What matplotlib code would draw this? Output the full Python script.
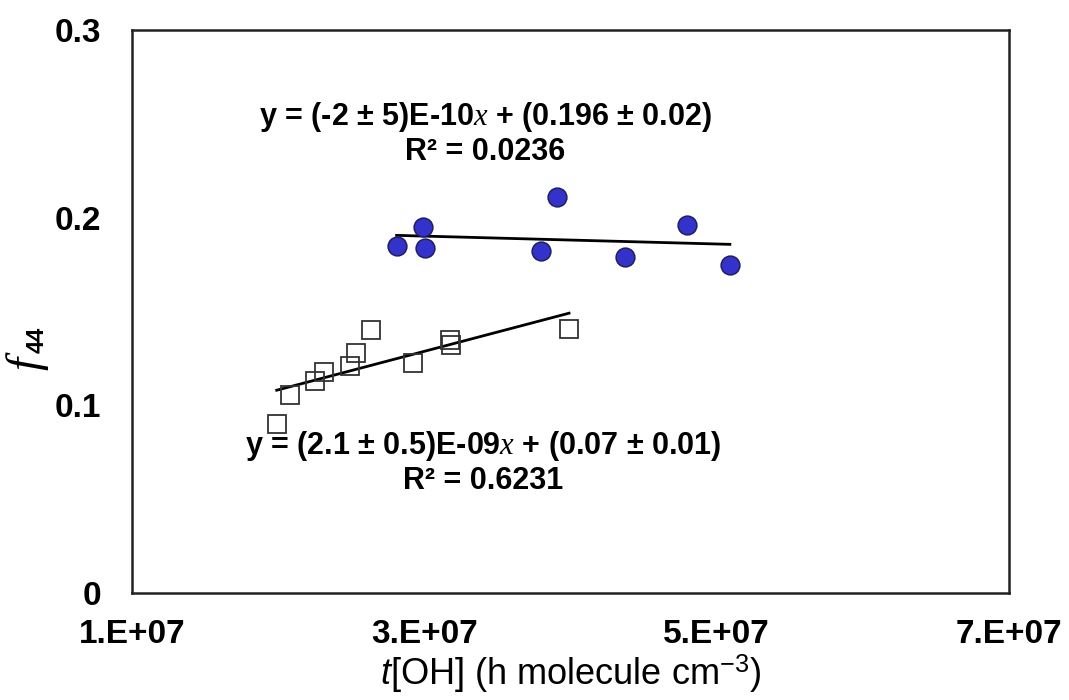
import numpy as np
import matplotlib
matplotlib.use("Agg")
import matplotlib.pyplot as plt
from matplotlib import font_manager

# data (x in molecule cm-3 h, y = f44)
high_x = [28.1e6, 29.9e6, 30.05e6, 38.0e6, 39.1e6, 43.7e6, 48.0e6, 50.9e6]
high_y = [0.185, 0.195, 0.184, 0.182, 0.211, 0.179, 0.196, 0.175]

low_x = [19.9e6, 20.8e6, 22.5e6, 23.1e6, 24.9e6, 25.3e6, 26.35e6, 29.2e6, 31.75e6, 31.85e6, 39.9e6]
low_y = [0.090, 0.1055, 0.113, 0.118, 0.121, 0.128, 0.140, 0.1227, 0.135, 0.132, 0.1405]

x_ticks = [1e7, 3e7, 5e7, 7e7]
x_tick_labels = ["1.E+07", "3.E+07", "5.E+07", "7.E+07"]
y_ticks = [0, 0.1, 0.2, 0.3]
y_tick_labels = ["0", "0.1", "0.2", "0.3"]

high_eq = "y = (-2 ± 5)E-10$x$ + (0.196 ± 0.02)"
high_r2 = "R² = 0.0236"
low_eq = "y = (2.1 ± 0.5)E-09$x$ + (0.07 ± 0.01)"
low_r2 = "R² = 0.6231"

names = {f.name for f in font_manager.fontManager.ttflist}
narrow = "Liberation Sans Narrow" if "Liberation Sans Narrow" in names else "Liberation Sans"

plt.rcParams["font.family"] = ["Liberation Sans", "DejaVu Sans"]
plt.rcParams["mathtext.fontset"] = "custom"
plt.rcParams["mathtext.it"] = "Liberation Serif:italic"
plt.rcParams["mathtext.rm"] = narrow
plt.rcParams["mathtext.sf"] = narrow + ":italic"

fig = plt.figure(figsize=(10.69, 7), dpi=100)
ax = fig.add_axes([0.1235, 0.1529, 0.8204, 0.8043])

# fitted trendlines over each data range
for xs, ys in [(low_x, low_y), (high_x, high_y)]:
    k, b = np.polyfit(xs, ys, 1)
    xx = np.array([min(xs), max(xs)])
    ax.plot(xx, k * xx + b, color="black", lw=2, zorder=2)

ax.plot(low_x, low_y, ls="none", marker="s", ms=13, mfc="none", mec="#333333", mew=1.3, zorder=3)
ax.plot(high_x, high_y, ls="none", marker="o", ms=13.5, mfc="#3333CC", mec="#1F1F5E", mew=1.1, zorder=3)

ax.set_xlim(1e7, 7e7)
ax.set_ylim(0, 0.3)
ax.set_xticks(x_ticks)
ax.set_xticklabels(x_tick_labels, fontfamily=narrow, fontweight="bold", fontsize=24)
ax.set_yticks(y_ticks)
ax.set_yticklabels(y_tick_labels, fontfamily=narrow, fontweight="bold", fontsize=24)
ax.tick_params(axis="both", length=0)
ax.tick_params(axis="x", pad=19)
ax.tick_params(axis="y", pad=22)
for s in ax.spines.values():
    s.set_linewidth(1.8)
    s.set_color("#222222")

ax.set_xlabel(r"$\mathsf{t}$[OH] (h molecule cm$^{-3}$)", fontfamily=narrow, fontsize=26, labelpad=2)
fig.text(27 / 1069, 1 - 363 / 700, "f", fontfamily="Liberation Serif", fontstyle="italic",
         fontsize=34, rotation=90, ha="center", va="center")
fig.text(37 / 1069, 1 - 340 / 700, "44", fontfamily="Liberation Sans", fontweight="bold",
         fontsize=17, rotation=90, ha="center", va="center")

ax.text(0.4025, 0.8455, high_eq, transform=ax.transAxes, ha="center", va="center", fontsize=22, fontweight="bold")
ax.text(0.4025, 0.7833, high_r2, transform=ax.transAxes, ha="center", va="center", fontsize=22, fontweight="bold")
ax.text(0.400, 0.2611, low_eq, transform=ax.transAxes, ha="center", va="center", fontsize=22, fontweight="bold")
ax.text(0.400, 0.199, low_r2, transform=ax.transAxes, ha="center", va="center", fontsize=22, fontweight="bold")

fig.savefig("out.png", dpi=100)
